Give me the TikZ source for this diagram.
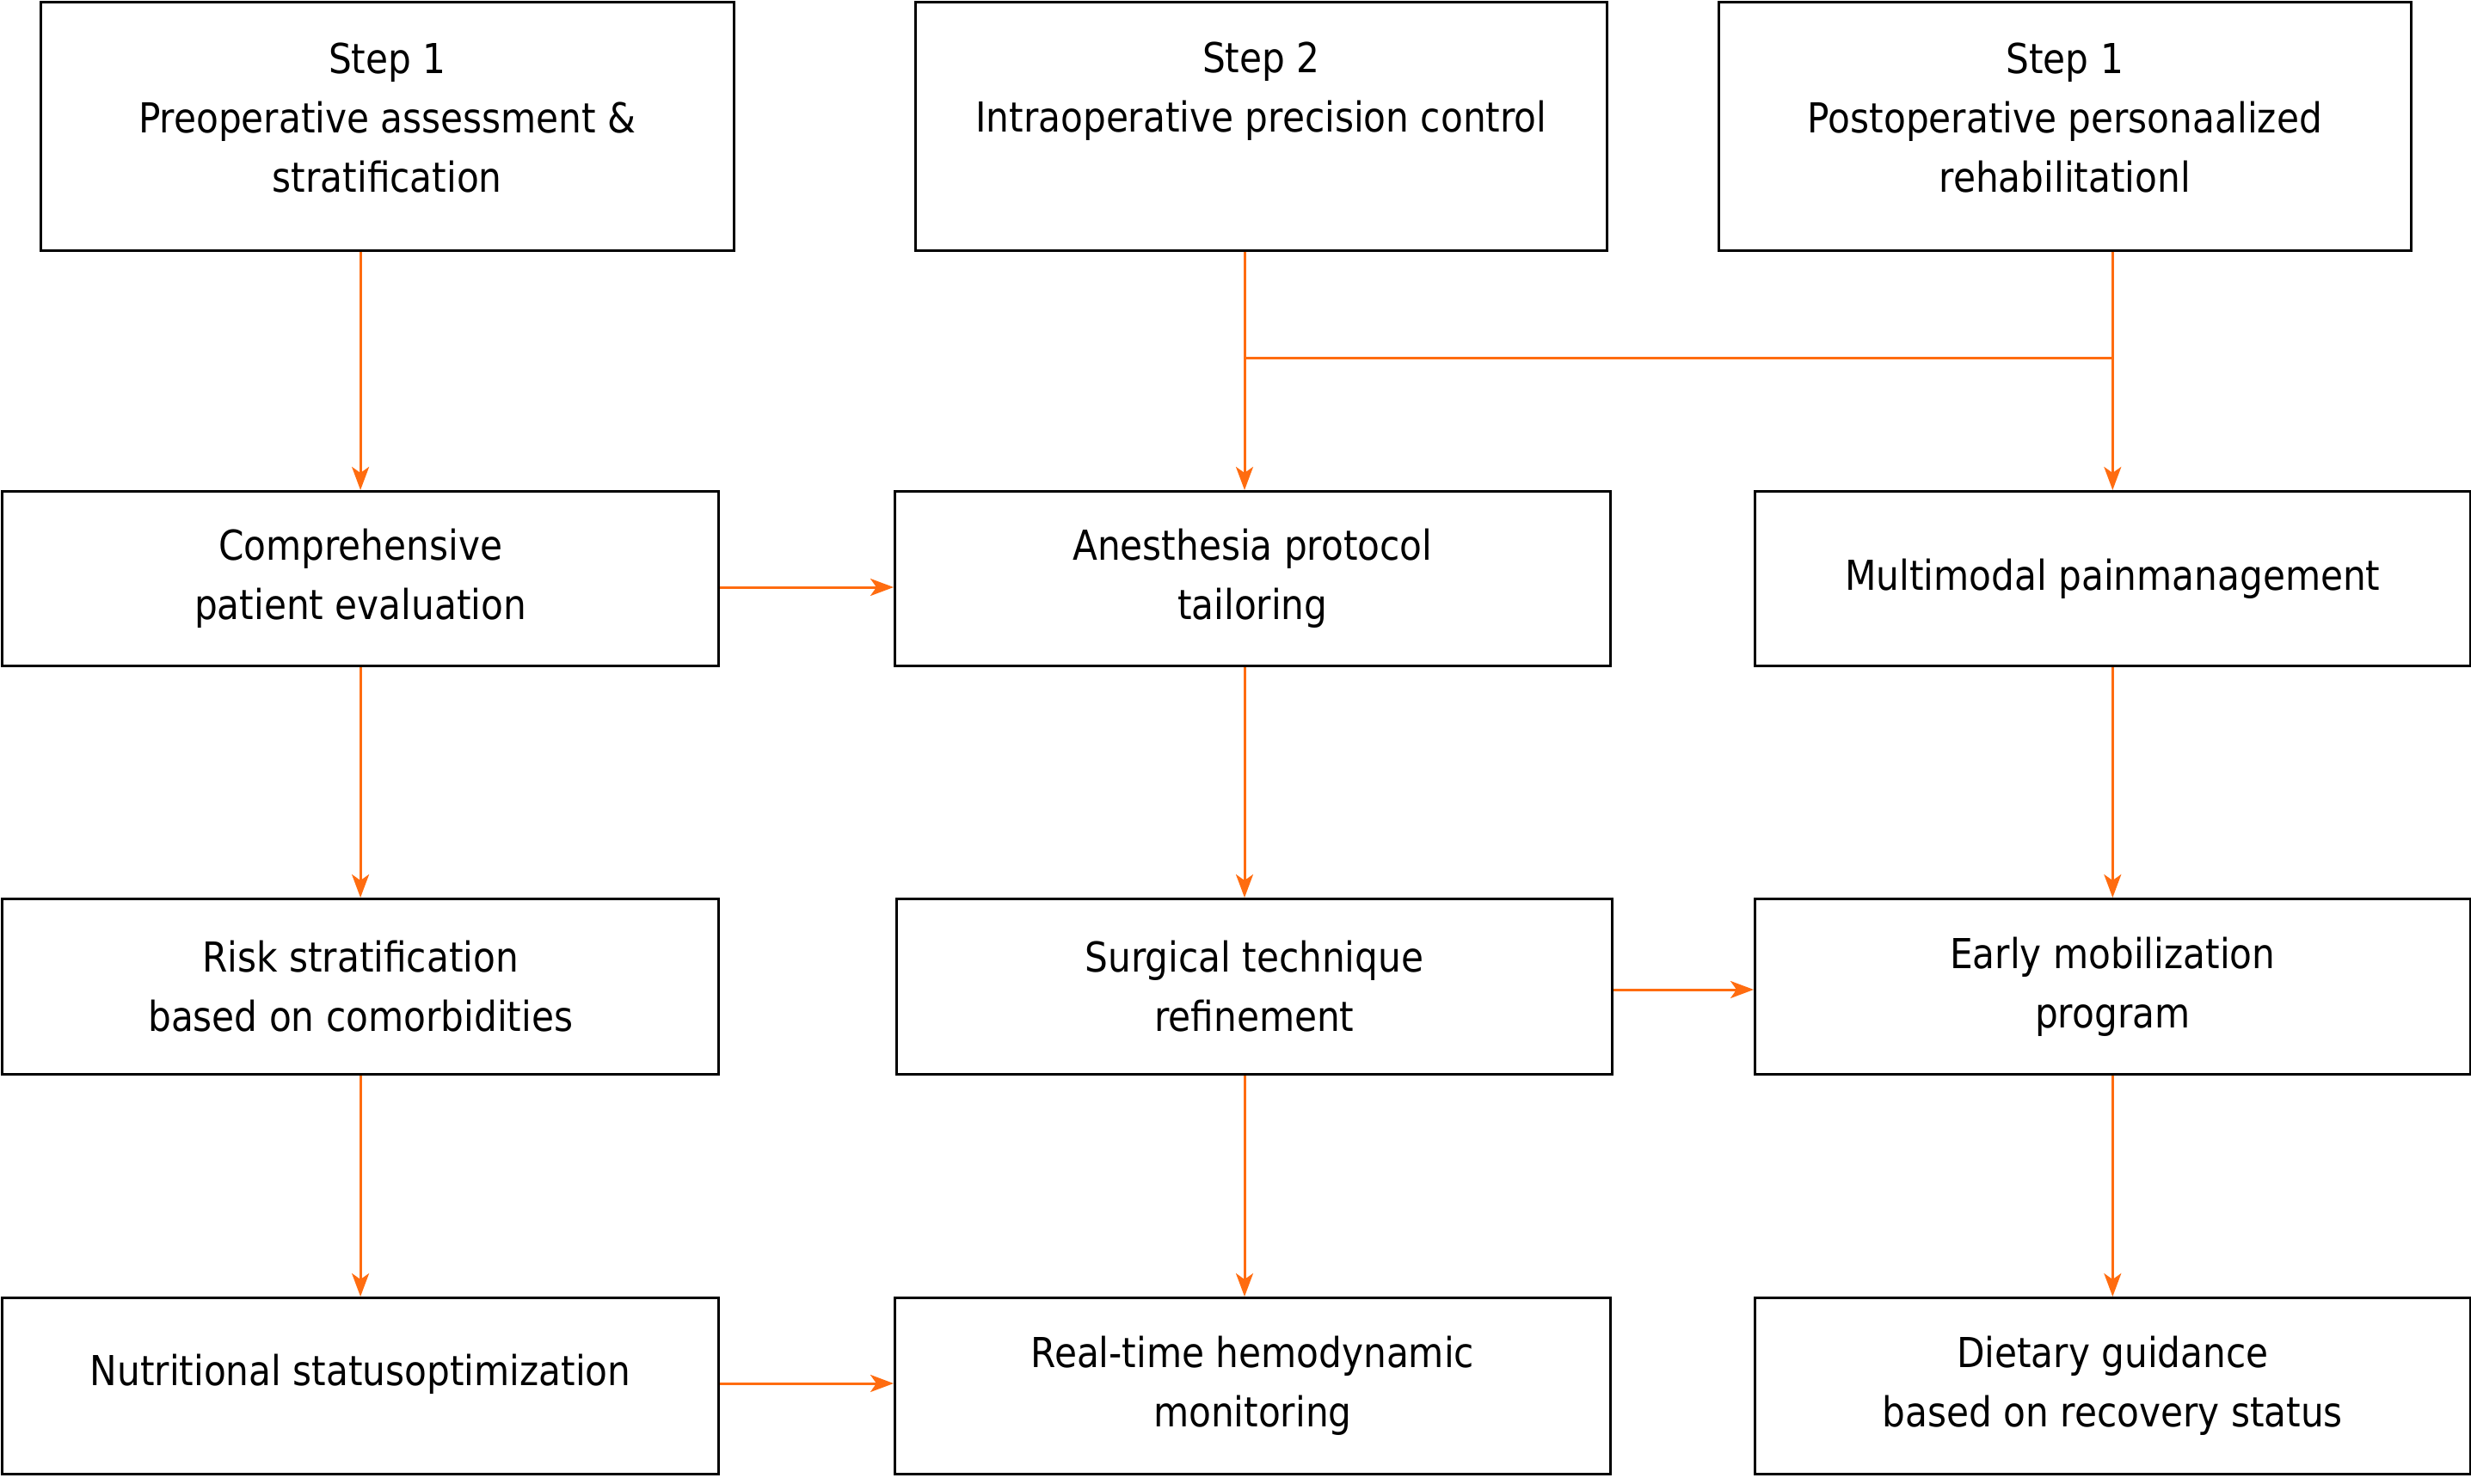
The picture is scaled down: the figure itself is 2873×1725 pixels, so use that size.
\documentclass[tikz,border=0pt]{standalone}
\usepackage{fontspec}
\setmainfont{DejaVu Sans}[FakeStretch=0.88]
\usetikzlibrary{arrows.meta}
\definecolor{arr}{RGB}{255,108,16}
\begin{document}
\begin{tikzpicture}[x=1pt,y=-1pt,
  box/.style={draw=black, line width=2.6pt, rectangle, inner sep=0pt, anchor=north west,
    align=center, font=\fontsize{48}{69}\selectfont},
  txt/.style={align=center, inner sep=0pt, font=\fontsize{48}{69}\selectfont},
  link/.style={draw=arr, line width=3pt, -{Stealth[length=27pt,width=20pt,inset=7pt]}},
  plain/.style={draw=arr, line width=3pt}]
\useasboundingbox (0,0) rectangle (2873,1725);
% top row
\node[box, minimum width=806pt, minimum height=289pt] (t1) at (46,1) {};
\node[box, minimum width=804pt, minimum height=289pt] (t2) at (1063,1) {};
\node[box, minimum width=805pt, minimum height=289pt] (t3) at (1997,1) {};
\node[txt] (t1txt) at ([yshift=10pt]t1.center) {Step 1\\Preoperative assessment \&\\stratification};
\node[txt] (t2txt) at ([yshift=41pt]t2.center) {Step 2\\Intraoperative precision control};
\node[txt] (t3txt) at ([yshift=10pt]t3.center) {Step 1\\Postoperative personaalized\\rehabilitationl};
% row 2
\node[box, minimum width=833pt, minimum height=203pt] (a1) at (1.3,570) {Comprehensive\\patient evaluation};
\node[box, minimum width=832pt, minimum height=203pt] (b1) at (1039,570) {Anesthesia protocol\\tailoring};
\node[box, minimum width=832pt, minimum height=203pt] (c1) at (2039,570) {Multimodal painmanagement};
% row 3
\node[box, minimum width=833pt, minimum height=204pt] (a2) at (1.3,1044) {Risk stratification\\based on comorbidities};
\node[box, minimum width=832pt, minimum height=204pt] (b2) at (1041,1044) {Surgical technique\\refinement};
\node[box, minimum width=832pt, minimum height=204pt] (c2) at (2039,1044) {Early mobilization\\program};
% row 4
\node[box, minimum width=833pt, minimum height=205pt] (a3) at (1.3,1508) {};
\node[txt] (a3txt) at ([yshift=14pt]a3.center) {Nutritional statusoptimization};
\node[box, minimum width=832pt, minimum height=205pt] (b3) at (1039,1508) {Real-time hemodynamic\\monitoring};
\node[box, minimum width=832pt, minimum height=205pt] (c3) at (2039,1508) {Dietary guidance\\based on recovery status};
% helper coordinates
\coordinate (colB) at (1447,0);
\coordinate (j) at (1447,416);
\coordinate (h1) at (0,683);
\coordinate (h2) at (0,1151);
\coordinate (h3) at (0,1609);
% column A
\draw[link] (t1.south -| a1.north) -- (a1.north);
\draw[link] (a1.south) -- (a2.north);
\draw[link] (a2.south) -- (a3.north);
% column B
\draw[link] (t2.south -| colB) -- (b1.north -| colB);
\draw[link] (b1.south -| colB) -- (b2.north -| colB);
\draw[link] (b2.south -| colB) -- (b3.north -| colB);
% column C
\draw[link] (t3.south -| c1.north) -- (c1.north);
\draw[link] (c1.south) -- (c2.north);
\draw[link] (c2.south) -- (c3.north);
% junction
\draw[plain] (j) -- (j -| c1.north);
% horizontal arrows
\draw[link] (a1.east |- h1) -- (b1.west |- h1);
\draw[link] (b2.east |- h2) -- (c2.west |- h2);
\draw[link] (a3.east |- h3) -- (b3.west |- h3);
\end{tikzpicture}
\end{document}
